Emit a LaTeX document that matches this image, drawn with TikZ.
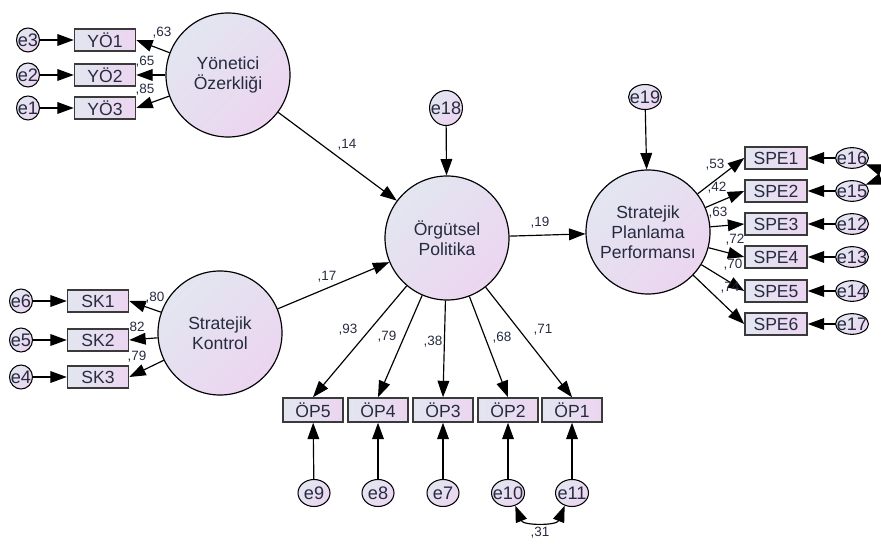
\documentclass[tikz,border=0pt]{standalone}
\usepackage{fontspec}
\setmainfont{Liberation Sans}
\usetikzlibrary{arrows.meta,shapes.geometric}

\definecolor{lblue}{HTML}{E2E6F0}
\definecolor{lpurp}{HTML}{ECD5F0}
\definecolor{txt}{HTML}{262B40}
\definecolor{boxline}{HTML}{3A3A3A}

\begin{document}
\begin{tikzpicture}[x=0.03cm, y=-0.03cm, >={Triangle[length=14pt,width=10pt]},
    latent/.style={circle, draw, line width=1pt, minimum size=3.72cm, inner sep=0pt,
        top color=lblue, bottom color=lpurp, shading angle=45, align=center,
        text=txt, font=\fontsize{15}{17}\selectfont},
    item/.style={rectangle, draw=boxline, line width=1.3pt, minimum width=1.83cm,
        minimum height=0.66cm, inner sep=0pt, left color=lblue, right color=lpurp,
        text=txt, font=\fontsize{15}{17}\selectfont},
    err/.style={ellipse, draw, line width=0.9pt, inner sep=-3pt, top color=lblue,
        bottom color=lpurp, shading angle=45, text=txt, font=\fontsize{15.5}{17}\selectfont},
    coef/.style={inner sep=0pt, text=txt, font=\fontsize{11.5}{13}\selectfont},
    path/.style={->, line width=1pt}]

    \useasboundingbox (0,0) rectangle (881,545);

    % latent variables
    \node[latent] (yo) at (228,75) {Yönetici\\Özerkliği};
    \node[latent] (sk) at (220,333) {Stratejik\\Kontrol};
    \node[latent] (op) at (447,238) {Örgütsel\\Politika};
    \node[latent] (spp) at (648,232) {Stratejik\\Planlama\\Performansı};

    % Yönetici Özerkliği
    \node[item] (yo1) at (105,40) {YÖ1};
    \node[item] (yo2) at (105,75) {YÖ2};
    \node[item] (yo3) at (105,108) {YÖ3};
    \node[err, minimum width=0.69cm, minimum height=0.72cm] (e3) at (28,40) {e3};
    \node[err, minimum width=0.69cm, minimum height=0.72cm] (e2) at (28,75) {e2};
    \node[err, minimum width=0.69cm, minimum height=0.72cm] (e1) at (28,108) {e1};

    \draw[path] (e3) -- (yo1);
    \draw[path] (e2) -- (yo2);
    \draw[path] (e1) -- (yo3);
    \draw[path] (yo) -- (yo1.east);
    \draw[path] (yo) -- (yo2.east);
    \draw[path] (yo) -- (yo3.east);

    \node[coef] (c63a) at (162,33) {,63};
    \node[coef] (c65) at (145,62) {,65};
    \node[coef] (c85) at (145,90) {,85};

    % Stratejik Kontrol
    \node[item] (sk1) at (98,301) {SK1};
    \node[item] (sk2) at (98,340) {SK2};
    \node[item] (sk3) at (98,377) {SK3};
    \node[err, minimum width=0.69cm, minimum height=0.72cm] (e6) at (21,301) {e6};
    \node[err, minimum width=0.69cm, minimum height=0.72cm] (e5) at (21,340) {e5};
    \node[err, minimum width=0.69cm, minimum height=0.72cm] (e4) at (21,377) {e4};

    \draw[path] (e6) -- (sk1);
    \draw[path] (e5) -- (sk2);
    \draw[path] (e4) -- (sk3);
    \draw[path] (sk) -- (sk1.east);
    \draw[path] (sk) -- (sk2.east);
    \draw[path] (sk) -- (sk3.east);

    \node[coef] (c80) at (155,298) {,80};
    \node[coef] (c82) at (137,327) {82};
    \node[coef] (c79a) at (137,357) {,79};

    % structural paths
    \node[err, minimum width=0.9cm, minimum height=1.05cm] (e18) at (446,108) {e18};
    \node[err, minimum width=0.72cm, minimum height=0.75cm] (e19) at (645,97) {e19};

    \draw[path] (e18) -- (op);
    \draw[path] (e19) -- (spp);
    \draw[path] (yo) -- (op);
    \draw[path] (sk) -- (op);
    \draw[path] (op) -- (spp);

    \node[coef] (c14) at (347,145) {,14};
    \node[coef] (c17) at (327,277) {,17};
    \node[coef] (c19) at (540,223) {,19};

    % Örgütsel Politika
    \node[item, minimum width=1.8cm, minimum height=0.72cm] (op5) at (313,410) {ÖP5};
    \node[item, minimum width=1.8cm, minimum height=0.72cm] (op4) at (378,410) {ÖP4};
    \node[item, minimum width=1.8cm, minimum height=0.72cm] (op3) at (443,410) {ÖP3};
    \node[item, minimum width=1.8cm, minimum height=0.72cm] (op2) at (508,410) {ÖP2};
    \node[item, minimum width=1.8cm, minimum height=0.72cm] (op1) at (572,410) {ÖP1};
    \node[err, minimum width=0.96cm, minimum height=0.81cm] (e9) at (314,493) {e9};
    \node[err, minimum width=0.96cm, minimum height=0.81cm] (e8) at (378,493) {e8};
    \node[err, minimum width=0.96cm, minimum height=0.81cm] (e7) at (443,493) {e7};
    \node[err, minimum width=0.99cm, minimum height=0.81cm] (e10) at (508,493) {e10};
    \node[err, minimum width=0.99cm, minimum height=0.81cm] (e11) at (572,493) {e11};

    \draw[path] (op) -- (op5.north);
    \draw[path] (op) -- (op4.north);
    \draw[path] (op) -- (op3.north);
    \draw[path] (op) -- (op2.north);
    \draw[path] (op) -- (op1.north);
    \draw[path] (e9) -- (op5);
    \draw[path] (e8) -- (op4);
    \draw[path] (e7) -- (op3);
    \draw[path] (e10) -- (op2);
    \draw[path] (e11) -- (op1);
    \draw[<->, line width=1pt] (e10.-60) .. controls +(8,20) and +(-8,20) .. (e11.-120);

    \node[coef] (c93) at (348,330) {,93};
    \node[coef] (c79b) at (387,337) {,79};
    \node[coef] (c38) at (433,342) {,38};
    \node[coef] (c68) at (502,338) {,68};
    \node[coef] (c71) at (543,330) {,71};
    \node[coef] (c31) at (540,533) {,31};

    % Stratejik Planlama Performansı
    \node[item, minimum width=1.86cm] (spe1) at (776,158) {SPE1};
    \node[item, minimum width=1.86cm] (spe2) at (776,191) {SPE2};
    \node[item, minimum width=1.86cm] (spe3) at (776,224) {SPE3};
    \node[item, minimum width=1.86cm] (spe4) at (776,257) {SPE4};
    \node[item, minimum width=1.86cm] (spe5) at (776,291) {SPE5};
    \node[item, minimum width=1.86cm] (spe6) at (776,324) {SPE6};
    \node[err, minimum width=0.9cm, minimum height=0.62cm] (e16) at (852,158) {e16};
    \node[err, minimum width=0.9cm, minimum height=0.62cm] (e15) at (852,191) {e15};
    \node[err, minimum width=0.9cm, minimum height=0.62cm] (e12) at (852,224) {e12};
    \node[err, minimum width=0.9cm, minimum height=0.62cm] (e13) at (852,257) {e13};
    \node[err, minimum width=0.9cm, minimum height=0.62cm] (e14) at (852,291) {e14};
    \node[err, minimum width=0.9cm, minimum height=0.62cm] (e17) at (852,324) {e17};

    \draw[path] (spp) -- (spe1.west);
    \draw[path] (spp) -- (spe2.west);
    \draw[path] (spp) -- (spe3.west);
    \draw[path] (spp) -- (spe4.west);
    \draw[path] (spp) -- (spe5.west);
    \draw[path] (spp) -- (spe6.west);
    \draw[path] (e16) -- (spe1);
    \draw[path] (e15) -- (spe2);
    \draw[path] (e12) -- (spe3);
    \draw[path] (e13) -- (spe4);
    \draw[path] (e14) -- (spe5);
    \draw[path] (e17) -- (spe6);
    \draw[<->, line width=1pt] (e16.-25) .. controls +(22,8) and +(22,-8) .. (e15.25);

    \node[coef] (c53) at (715,165) {,53};
    \node[coef] (c42) at (717,188) {,42};
    \node[coef] (c63b) at (718,213) {,63};
    \node[coef] (c72) at (735,240) {,72};
    \node[coef] (c70) at (733,265) {,70};
    \node[coef] (c74) at (730,288) {,74};
\end{tikzpicture}
\end{document}
